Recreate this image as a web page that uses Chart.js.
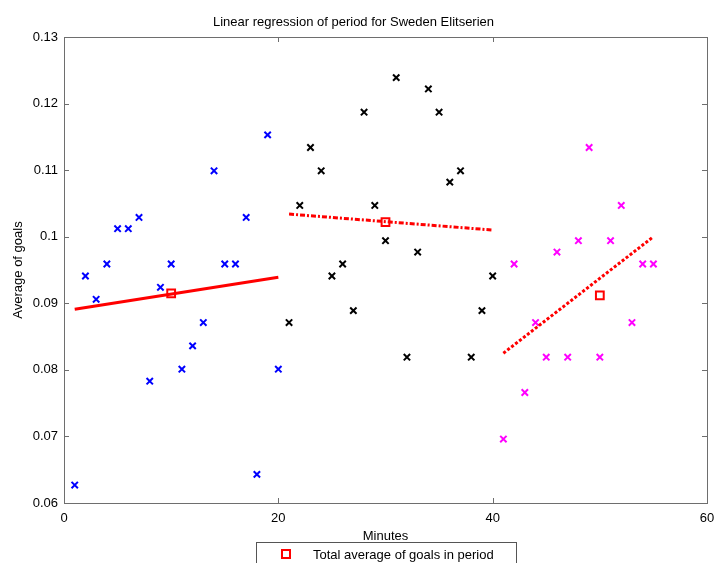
<!DOCTYPE html>
<html>
<head>
<meta charset="utf-8">
<script src="https://cdn.jsdelivr.net/npm/chart.js@4.4.1/dist/chart.umd.min.js"></script>
<style>
  html, body { margin: 0; padding: 0; background: #fff; }
  #wrap { width: 716px; height: 563px; }
</style>
</head>
<body>
<div id="wrap"><canvas id="chart"></canvas></div>
<script>
// minutes of each period
const minutes1 = [1, 2, 3, 4, 5, 6, 7, 8, 9, 10, 11, 12, 13, 14, 15, 16, 17, 18, 19, 20];
const minutes2 = [21, 22, 23, 24, 25, 26, 27, 28, 29, 30, 31, 32, 33, 34, 35, 36, 37, 38, 39, 40];
const minutes3 = [41, 42, 43, 44, 45, 46, 47, 48, 49, 50, 51, 52, 53, 54, 55];

// average goals per minute
const goals1 = [0.0627, 0.0941, 0.0906, 0.0959, 0.1012, 0.1012, 0.1029, 0.0783, 0.0924, 0.0959,
                0.0801, 0.0836, 0.0871, 0.1099, 0.0959, 0.0959, 0.1029, 0.0643, 0.1153, 0.0801];
const goals2 = [0.0871, 0.1047, 0.1134, 0.1099, 0.0941, 0.0959, 0.0889, 0.1187, 0.1047, 0.0994,
                0.1239, 0.0819, 0.0977, 0.1222, 0.1187, 0.1082, 0.1099, 0.0819, 0.0889, 0.0941];
const goals3 = [0.0696, 0.0959, 0.0766, 0.0871, 0.0819, 0.0977, 0.0819, 0.0994, 0.1134, 0.0819,
                0.0994, 0.1047, 0.0871, 0.0959, 0.0959];

// period means
const meanMinutes = [10, 30, 50];
const meanGoals = [0.0915, 0.1022, 0.0912];

// regression line end points
const fit1X = [1, 20], fit1Y = [0.0891, 0.0939];
const fit2X = [21, 40], fit2Y = [0.1034, 0.1010];
const fit3X = [41, 55], fit3Y = [0.0825, 0.1000];

const xTicks = [0, 20, 40, 60];
const yTicks = [0.06, 0.07, 0.08, 0.09, 0.1, 0.11, 0.12, 0.13];

const FONT = "'Liberation Sans', Arial, Helvetica, sans-serif";
const pts = (xs, ys) => xs.map((x, i) => ({ x: x, y: ys[i] }));

// MATLAB style box with inward ticks on all four sides
const boxAxes = {
    id: 'boxAxes',
    beforeDatasetsDraw(chart) {
        const { ctx, chartArea: a, scales } = chart;
        ctx.save();
        ctx.strokeStyle = '#6e6e6e';
        ctx.lineWidth = 1;
        ctx.strokeRect(Math.round(a.left) + 0.5, Math.round(a.top) + 0.5,
                       Math.round(a.right - a.left), Math.round(a.bottom - a.top));
        ctx.beginPath();
        scales.x.ticks.forEach(t => {
            const px = Math.round(scales.x.getPixelForValue(t.value)) + 0.5;
            ctx.moveTo(px, a.bottom); ctx.lineTo(px, a.bottom - 5);
            ctx.moveTo(px, a.top); ctx.lineTo(px, a.top + 5);
        });
        scales.y.ticks.forEach(t => {
            const py = Math.round(scales.y.getPixelForValue(t.value)) + 0.5;
            ctx.moveTo(a.left, py); ctx.lineTo(a.left + 5, py);
            ctx.moveTo(a.right, py); ctx.lineTo(a.right - 5, py);
        });
        ctx.stroke();
        ctx.restore();
    }
};

// legend box below the axes (cut off by the bottom edge, like the original)
const boxLegend = {
    id: 'boxLegend',
    afterDraw(chart) {
        const { ctx } = chart;
        const ds = chart.data.datasets[0];
        ctx.save();
        ctx.fillStyle = '#fff';
        ctx.fillRect(256, 543, 260, 30);
        ctx.strokeStyle = '#555';
        ctx.lineWidth = 1;
        ctx.strokeRect(256.5, 542.5, 260, 40);
        ctx.strokeStyle = ds.borderColor;
        ctx.lineWidth = 2;
        ctx.strokeRect(282, 550, 8, 8);
        ctx.fillStyle = '#000';
        ctx.font = '13px ' + FONT;
        ctx.textBaseline = 'middle';
        ctx.fillText(ds.label, 313, 555);
        ctx.restore();
    }
};

const crossStyle = (color) => ({
    showLine: false,
    pointStyle: 'crossRot',
    pointRadius: 4.5,
    pointHoverRadius: 4.5,
    pointBorderWidth: 2,
    borderColor: color,
    backgroundColor: color
});

const chart = new Chart(document.getElementById('chart'), {
    type: 'scatter',
    data: {
        datasets: [
            {
                label: 'Total average of goals in period',
                data: pts(meanMinutes, meanGoals),
                showLine: false,
                pointStyle: 'rect',
                pointRadius: 5.5,
                pointBorderWidth: 2,
                borderColor: '#ff0000',
                backgroundColor: 'rgba(0,0,0,0)',
                order: 0
            },
            {
                label: 'fit 1', data: pts(fit1X, fit1Y), showLine: true, pointRadius: 0,
                borderColor: '#ff0000', borderWidth: 3, order: 1
            },
            {
                label: 'fit 2', data: pts(fit2X, fit2Y), showLine: true, pointRadius: 0,
                borderColor: '#ff0000', borderWidth: 3, borderDash: [5, 2, 2, 2], order: 1
            },
            {
                label: 'fit 3', data: pts(fit3X, fit3Y), showLine: true, pointRadius: 0,
                borderColor: '#ff0000', borderWidth: 3, borderDash: [3, 2], order: 1
            },
            Object.assign({ label: 'period 1', data: pts(minutes1, goals1), order: 2 }, crossStyle('#0000ff')),
            Object.assign({ label: 'period 2', data: pts(minutes2, goals2), order: 2 }, crossStyle('#000000')),
            Object.assign({ label: 'period 3', data: pts(minutes3, goals3), order: 2 }, crossStyle('#ff00ff'))
        ]
    },
    options: {
        responsive: true,
        maintainAspectRatio: false,
        animation: false,
        layout: { padding: { left: 0, right: 9, top: 0, bottom: 0 } },
        scales: {
            x: {
                type: 'linear',
                min: 0, max: 60,
                afterFit: s => { s.height = 60; s.paddingLeft = 0; s.paddingRight = 0; },
                afterBuildTicks: s => { s.ticks = xTicks.map(v => ({ value: v })); },
                grid: { display: false, drawTicks: false },
                border: { display: false },
                ticks: { color: '#000', padding: 8, font: { family: FONT, size: 13 } },
                title: {
                    display: true, text: 'Minutes', color: '#000',
                    font: { family: FONT, size: 13 }, padding: { top: 0, bottom: 19 }
                }
            },
            y: {
                type: 'linear',
                min: 0.06, max: 0.13,
                afterFit: s => { s.width = 64; },
                afterBuildTicks: s => { s.ticks = yTicks.map(v => ({ value: v })); },
                grid: { display: false, drawTicks: false },
                border: { display: false },
                ticks: {
                    color: '#000', padding: 6, font: { family: FONT, size: 13 },
                    callback: v => String(parseFloat(v.toFixed(2)))
                },
                title: {
                    display: true, text: 'Average of goals', color: '#000',
                    font: { family: FONT, size: 13 }, padding: { top: 11, bottom: 0 }
                }
            }
        },
        plugins: {
            legend: { display: false },
            tooltip: { enabled: false },
            title: {
                display: true,
                text: 'Linear regression of period for Sweden Elitserien',
                color: '#000',
                font: { family: FONT, size: 13, weight: 'normal' },
                padding: { top: 14.5, bottom: 6.9 }
            }
        }
    },
    plugins: [boxAxes, boxLegend]
});
</script>
</body>
</html>
